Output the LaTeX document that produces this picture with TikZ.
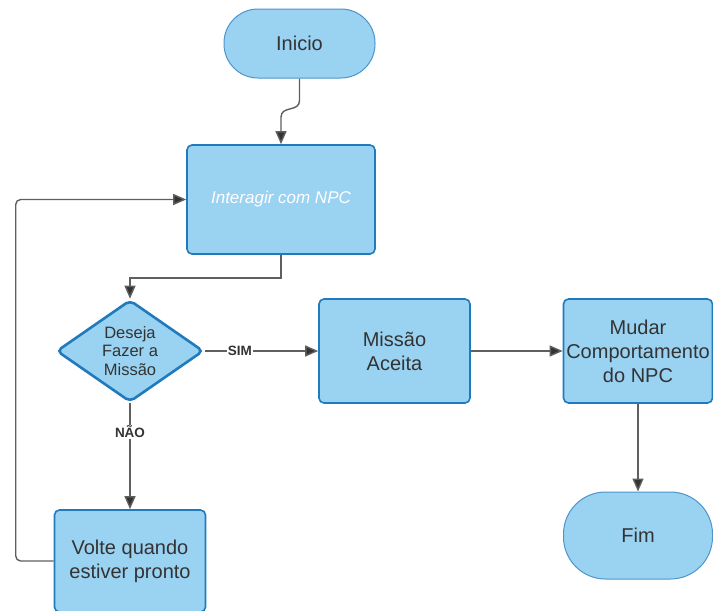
\documentclass[tikz,border=0pt]{standalone}
\usepackage{fontspec}
\setmainfont{Liberation Sans}
\usetikzlibrary{shapes.geometric,arrows.meta}
\definecolor{azulcaixa}{RGB}{154,210,242}
\definecolor{azulborda}{RGB}{32,122,190}
\definecolor{cinzaseta}{RGB}{95,95,95}
\definecolor{cinzatexto}{RGB}{51,51,51}
\begin{document}
\begin{tikzpicture}[x=1pt,y=-1pt,
  base/.style={fill=azulcaixa, text=cinzatexto, align=center, inner sep=0pt,
    font=\fontsize{20}{24}\selectfont},
  caixa/.style={base, draw=azulborda, line width=1.6pt, rounded corners=5pt,
    minimum width=151pt, minimum height=104pt},
  terminal/.style={base, draw=azulborda!80, line width=1pt, minimum width=151pt},
  decisao/.style={base, diamond, draw=azulborda, line width=2.6pt, rounded corners=5pt,
    minimum width=147pt, minimum height=102pt, aspect=1.44,
    font=\fontsize{16.5}{18.5}\selectfont},
  seta/.style={draw=cinzaseta, line width=1.4pt,
    -{Triangle[length=13pt,width=11pt,fill=cinzatexto]}},
  rotulo/.style={fill=white, text=cinzatexto, inner sep=1pt,
    font=\fontsize{13.5}{15}\bfseries\selectfont}]
\useasboundingbox (0,0) rectangle (713,611);
% blocos
\node[terminal, minimum height=69pt, rounded corners=34pt] (inicio) at (299.5,43.5) {Inicio};
\node[caixa, minimum width=188pt, minimum height=109pt] (interagir) at (281,199.5)
  {\fontsize{17}{20}\itshape\selectfont\color{white}Interagir com NPC};
\node[decisao] (deseja) at (130,351) {Deseja\\Fazer a\\Miss\~ao};
\node[caixa] (aceita) at (394.5,351) {Miss\~ao\\Aceita};
\node[caixa, minimum width=149pt] (mudar) at (638,351) {Mudar\\Comportamento\\do NPC};
\node[terminal, minimum width=149pt, minimum height=87pt, rounded corners=42pt] (fim) at (638,535.5) {Fim};
\node[caixa, minimum height=102pt] (volte) at (130,561) {Volte quando\\estiver pronto};
% setas
\draw[seta] (inicio.south) -- ++(0,22) .. controls +(0,12) and +(0,-12) ..
  ([yshift=27pt]interagir.north) -- (interagir.north);
\draw[seta] (interagir.south) -- ++(0,23) -| (deseja.north);
\draw[seta] (deseja.east) -- (aceita.west) node[rotulo, pos=0.31]{SIM};
\draw[seta] (deseja.south) -- (volte.north) node[rotulo, pos=0.27]{N\~AO};
\draw[seta] (aceita.east) -- (mudar.west);
\draw[seta] (mudar.south) -- (fim.north);
\draw[seta, rounded corners=5pt] (volte.west) -- ++(-38,0) |- (interagir.west);
\end{tikzpicture}
\end{document}
